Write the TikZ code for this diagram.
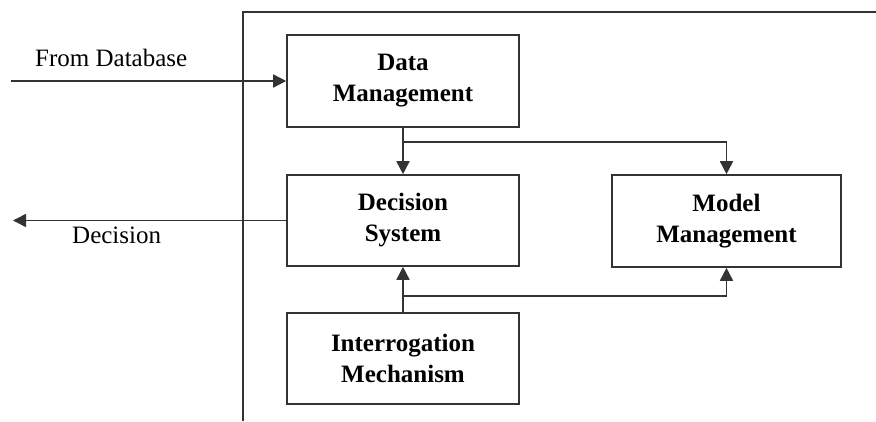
\documentclass[tikz,border=0pt]{standalone}
\usepackage{fontspec}
\setmainfont{Liberation Serif}
\usetikzlibrary{arrows.meta}
\definecolor{linegray}{HTML}{333333}
\begin{document}
\begin{tikzpicture}[x=1pt,y=-1pt,
  block/.style={draw=linegray,line width=1.6pt,minimum width=232pt,align=center,
    font=\fontsize{25}{31}\selectfont\bfseries,inner sep=0pt},
  conn/.style={draw=linegray,line width=1.6pt,-{Triangle[length=13pt,width=13pt]}},
  plain/.style={draw=linegray,line width=1.6pt},
  lbl/.style={font=\fontsize{25}{30}\selectfont,inner sep=0pt}]
  \useasboundingbox (0,0) rectangle (876,421);
  % outer frame
  \draw[plain] (243,421) -- (243,12) -- (876,12);
  % blocks
  \node[block,minimum height=92pt] (dm) at (403,81) {Data\\Management};
  \node[block,minimum height=91pt] (ds) at (403,220.5) {Decision\\System};
  \node[block,minimum width=229pt,minimum height=92pt] (mm) at (726.5,221) {Model\\Management};
  \node[block,minimum height=91pt] (im) at (403,358.5) {Interrogation\\Mechanism};
  % free ends
  \coordinate (src) at (11,81);
  \coordinate (out) at (13,220.5);
  % labels
  \node[lbl,anchor=base west] (lsrc) at (35,66) {From Database};
  \node[lbl,anchor=base west] (lout) at (72,243) {Decision};
  % connectors
  \draw[conn] (src) -- (dm.west);
  \draw[conn] (ds.west) -- (out);
  \draw[conn] (dm.south) -- (ds.north);
  \draw[conn] (dm.south) ++(0,14) coordinate (b1) -| (mm.north);
  \draw[conn] (im.north) -- (ds.south);
  \draw[conn] (im.north) ++(0,-16) coordinate (b2) -| (mm.south);
\end{tikzpicture}
\end{document}
